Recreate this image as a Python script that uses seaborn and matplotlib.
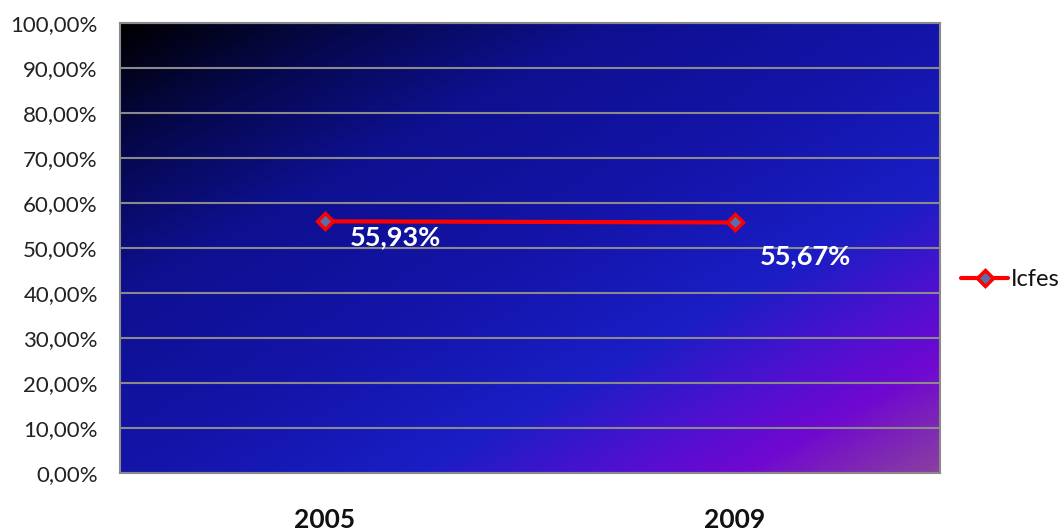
import numpy as np
import pandas as pd
import matplotlib as mpl
mpl.use('Agg')
import matplotlib.pyplot as plt
from matplotlib.colors import LinearSegmentedColormap
import seaborn as sns

years = ['2005', '2009']
icfes = [55.93, 55.67]
labels = ['55,93%', '55,67%']

sns.set_theme(style='white')
plt.rcParams['font.family'] = ['Lato', 'DejaVu Sans']

df = pd.DataFrame({'year': years, 'Icfes': icfes})

fig = plt.figure(figsize=(10.64, 5.31), dpi=100)
ax = fig.add_axes([120/1064, 1 - 473/531, 820/1064, 450/531])

# diagonal gradient background (black top-left -> blue -> purple bottom-right)
cmap = LinearSegmentedColormap.from_list('bg', [(0.0, '#000000'), (0.15, '#060850'),
                                                (0.3, '#0e1090'), (0.5, '#1414a8'),
                                                (0.68, '#1a1ec4'), (0.8, '#5010d0'),
                                                (0.88, '#7008d0'), (1.0, '#8a40a0')])
u, v = np.meshgrid(np.linspace(0, 1, 400), np.linspace(0, 1, 300))
ax.imshow((u + v) / 2, cmap=cmap, extent=[0, 1, 0, 1], transform=ax.transAxes,
          aspect='auto', origin='upper', zorder=0, vmin=0, vmax=1)

sns.lineplot(data=df, x='year', y='Icfes', ax=ax, color='#ff0000', linewidth=3,
             marker='D', markersize=8, markerfacecolor='#5a6ea8',
             markeredgecolor='#ff0000', markeredgewidth=2.5, label='Icfes', zorder=3)

for i, (val, txt) in enumerate(zip(icfes, labels)):
    ax.annotate(txt, (i, val), xytext=(i + 0.06, val - (3.5 if i == 0 else 7.5)),
                color='white', fontsize=19.5, fontweight='bold', va='center', ha='left', zorder=4)

ax.set_xlim(-0.5, 1.5)
ax.set_ylim(0, 100)
ax.set_yticks(np.arange(0, 101, 10))
ax.set_yticklabels([f'{t},00%' for t in range(0, 101, 10)], fontsize=16, color='#222222')
ax.set_xticks([0, 1])
ax.set_xticklabels(years, fontsize=19, fontweight='bold', color='#111111')
ax.tick_params(axis='x', pad=25, length=0)
ax.tick_params(axis='y', pad=16, length=0)
ax.set_xlabel('')
ax.set_ylabel('')
ax.grid(axis='y', color='#8a8a8a', linewidth=1.5, zorder=1)
ax.set_axisbelow(False)
for s in ax.spines.values():
    s.set_color('#8a8a8a')
    s.set_linewidth(1.5)

leg = ax.legend(loc='center left', bbox_to_anchor=(1.0, 0.43), frameon=False,
                fontsize=17, handlelength=2.0, handletextpad=0.1)
for t in leg.get_texts():
    t.set_color('#111111')

fig.savefig('out.png', dpi=100)
